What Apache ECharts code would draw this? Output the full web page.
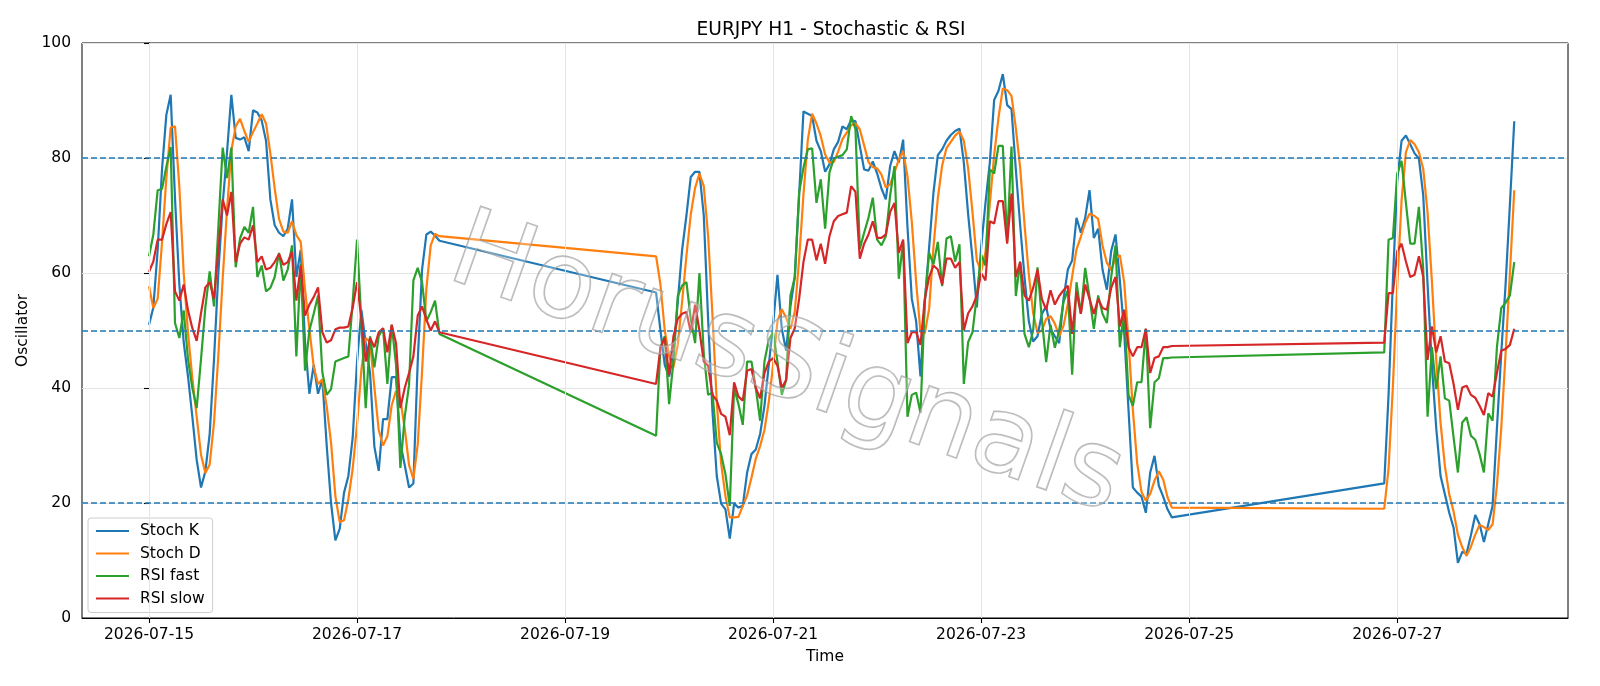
<!DOCTYPE html>
<html><head><meta charset="utf-8">
<script src="https://cdn.jsdelivr.net/npm/echarts@6/dist/echarts.min.js"></script>
<style>html,body{margin:0;padding:0;background:#fff}#c{width:1600px;height:686px}</style>
</head><body><div id="c"></div><script>
// Hourly bars: three trading segments (hours counted from 2026-07-15 00:00)
const segmentStartHours = [0, 117, 285];
const segmentLengths = [68, 120, 31];
const xTickHours = [0, 48, 96, 144, 192, 240, 288];
const levelLines = [80, 50, 20];

const stochK = [
  // 07-15 00:00 .. 07-17 19:00
  51, 54, 64, 78, 87.5, 91, 73, 58, 48, 42,
  35, 27.5, 22.7, 25.5, 32, 45, 60, 72, 81, 91,
  83.5, 83.2, 83.6, 81.2, 88.3, 87.9, 86.5, 83, 72.8, 68.3,
  67, 66.4, 67.7, 72.8, 59.3, 64, 48, 39, 44, 39,
  41.5, 30, 20, 13.5, 15.5, 21.8, 24.7, 31.4, 44.6, 53.6,
  47.8, 42.6, 29.8, 25.6, 34.6, 34.6, 41.9, 41.9, 30.4, 26.6,
  22.7, 23.4, 44.6, 60.6, 66.7, 67.2, 66.5, 65.6,
  // 07-19 21:00 .. 07-24 20:00
  56.6, 50, 44, 42, 46, 55, 64, 70, 76.7, 77.6,
  77.6, 70, 52, 36, 24.7, 19.9, 18.9, 13.8, 19.9, 19.2,
  19.5, 25.3, 28.5, 29.3, 32, 36.9, 44, 51, 59.7, 50.3,
  46.5, 54.2, 59.3, 73.5, 88.1, 87.7, 87.3, 83, 81.2, 77.6,
  78.9, 81.5, 82.8, 85.5, 85, 86.6, 86.4, 82.1, 78, 77.8,
  79.4, 77.3, 74.7, 72.8, 78.6, 81.2, 79.2, 83.2, 68, 55.5,
  51.6, 42, 55, 64.5, 74, 80.5, 81.5, 83, 84, 84.7,
  85.1, 79.2, 70.2, 62.5, 54, 64.5, 72.2, 79.2, 90.1, 91.7,
  94.6, 89.2, 88.5, 78, 68.3, 59.3, 51.6, 48.1, 49, 52.9,
  54.2, 50.3, 49, 47.8, 55.5, 60.6, 62.2, 69.6, 67, 69.6,
  74.4, 66.1, 67.7, 60.6, 57.1, 63.8, 66.7, 58.7, 49.7, 36.2,
  22.7, 21.8, 21.1, 18.3, 25.3, 28.2, 23, 21.1, 18.9, 17.5,
  // 07-26 21:00 .. 07-28 03:00
  23.4, 38.8, 58.7, 76, 83, 83.9, 82.4, 80.8, 79.9, 73.5,
  58, 43.9, 33, 24.7, 21.5, 18.3, 15.7, 9.6, 11.5, 11.2,
  14.4, 17.9, 16.3, 13.2, 16.3, 19.5, 33, 46, 58, 72, 86.4
];

const stochD = [
  57.7, 53.9, 55.5, 65.3, 76.5, 85.3, 85.5, 75, 60, 49.5,
  41.7, 35, 28.4, 25.2, 26.7, 34, 45.7, 59, 71, 81.3,
  85.5, 86.8, 84.7, 82.8, 84.5, 86, 87.6, 86, 80.8, 74.7,
  69.4, 67.2, 67, 69, 66.6, 65.4, 57.1, 50.3, 43.7, 40.7,
  41.5, 36.8, 30.5, 21.2, 16.7, 17, 20.7, 26, 33.6, 43.2,
  48.7, 48, 40.1, 32.7, 30, 31.6, 37, 39.5, 38, 33,
  26.6, 24.2, 30.2, 42.9, 57.3, 64.8, 66.8, 66.4,
  62.9, 58, 50, 45.5, 43.6, 47.5, 55, 63, 70.2, 74.8,
  77.3, 75.1, 66.5, 52.7, 37.6, 26.9, 21.2, 17.5, 17.5, 17.6,
  19.5, 21.3, 24.4, 27.7, 29.9, 32.7, 37.6, 44, 51.6, 53.7,
  52.2, 50.3, 53.3, 62.3, 73.6, 83.1, 87.7, 86, 83.8, 80.6,
  79.2, 79.3, 81.1, 83.3, 84.4, 85.7, 86, 85, 82.2, 79.3,
  78.4, 78.2, 77.1, 74.9, 75.4, 77.5, 79.7, 81.2, 76.8, 68.9,
  58.4, 49.7, 49.5, 53.8, 64.5, 73, 78.7, 81.7, 82.8, 83.9,
  84.6, 83, 78.2, 70.6, 62.2, 60.3, 63.6, 72, 80.5, 87,
  92.1, 91.8, 90.8, 85.2, 78.3, 68.5, 59.7, 53, 49.6, 50,
  52, 52.5, 51.2, 49, 50.8, 54.6, 59.4, 64.1, 66.3, 68.7,
  70.3, 70, 69.4, 64.8, 61.8, 60.5, 62.5, 63.1, 58.4, 48.2,
  36.2, 26.9, 21.9, 20.4, 21.6, 23.9, 25.5, 24.1, 21, 19.2,
  19, 26, 40.3, 57.8, 72.6, 81, 83.1, 82.4, 81, 78.1,
  70.5, 58.5, 45, 33.9, 26.4, 21.5, 18.5, 14.5, 12.3, 10.8,
  12.4, 14.5, 16.2, 15.8, 15.3, 16.3, 23, 33, 46, 60, 74.4
];

const rsiFast = [
  62.9, 66.7, 74.4, 74.6, 78.5, 81.9, 51.3, 48.7, 53.5, 45,
  40, 36.5, 45, 54, 60.3, 54.2, 68, 81.8, 76.5, 81.8,
  61, 66, 68, 67, 71.5, 59.3, 61.3, 56.8, 57.4, 59.3,
  63.5, 58.7, 60.6, 64.8, 45.5, 61.5, 43, 50, 52.9, 56.1,
  42.7, 38.8, 39.8, 44.6, 44.9, 45.2, 45.5, 55, 65.8, 51.5,
  36.5, 49, 43.6, 49, 50.4, 40.7, 51, 44, 26.1, 35,
  40.5, 58.7, 60.9, 58.4, 51.6, 53.2, 55.2, 49.4,
  31.7, 47.1, 49, 37.2, 44.6, 56, 57.8, 58.4, 52, 47.8,
  60, 46, 38.8, 39.2, 30.5, 28.5, 25, 19.5, 40, 37.2,
  33.6, 44.6, 44.6, 40, 34.3, 44.6, 48.4, 49.7, 44.6, 38.8,
  41.4, 56.1, 59.3, 74, 78.3, 81.5, 81.7, 72.2, 76.3, 67.7,
  77.5, 79.9, 80.2, 80.5, 81.5, 87.3, 85, 64.2, 67, 69.6,
  73.1, 65.8, 64.8, 66.4, 73.5, 78.6, 59, 65.4, 35, 38.8,
  39.2, 35.7, 55, 63.5, 61.5, 65.4, 57.7, 66, 66.4, 62,
  65, 40.7, 48, 49.7, 56.1, 63.2, 61.3, 78, 77.3, 82.1,
  82.1, 65.5, 82, 56, 62, 49.4, 47.1, 50, 61, 52,
  44.5, 51, 47, 50, 55, 57, 42.3, 58.4, 52.9, 60.9,
  55.8, 50.3, 56.1, 52.9, 51.3, 59.3, 64.8, 47.1, 53.6, 38.8,
  36.9, 41, 41, 50.3, 33, 41, 41.7, 45.2, 45.2, 45.3,
  46.2, 65.8, 66.1, 77.3, 79.5, 72.2, 65.1, 65.1, 71.5, 60.6,
  35, 47.1, 39.8, 45.5, 38.2, 37.8, 31.4, 25.3, 34, 34.9,
  31.7, 31, 28.5, 25.3, 35.6, 34.3, 47.1, 53.9, 54.8, 56.1, 61.9
];

const rsiSlow = [
  60.2, 62, 65.8, 65.8, 68.5, 70.6, 56.8, 55.2, 58, 53.5,
  50.4, 48.2, 53, 57.5, 58.4, 55.5, 64, 72.8, 70, 74.1,
  61.9, 65.1, 66.2, 65.8, 68.3, 61.9, 62.9, 60.6, 60.9, 61.9,
  63.3, 61.4, 61.9, 63.7, 55.2, 61.3, 52.6, 54.5, 55.8, 57.5,
  49.7, 47.9, 48.3, 50.2, 50.5, 50.5, 50.7, 54, 58.4, 52,
  44.6, 48.7, 47.1, 49.7, 50.4, 46.2, 51, 47.8, 36.5, 40,
  42.6, 45.5, 52.6, 54.2, 51.9, 50, 51.6, 49.7,
  40.7, 47, 48.7, 42.3, 49, 52, 52.9, 53.2, 49.7, 54.5,
  50, 44.6, 43.9, 38.8, 37.8, 35.5, 35, 31.8, 41, 38.5,
  37.8, 43, 43.3, 40, 38.2, 42.6, 44.6, 45.2, 43.9, 40,
  41.4, 48.7, 50.4, 55.5, 61.9, 65.8, 65.8, 62.2, 65.1, 61.6,
  66.4, 69, 69.9, 70.2, 70.5, 75.1, 74.1, 62.5, 65.1, 66.7,
  69, 66.1, 66.1, 66.7, 70.6, 72.2, 63.5, 65.8, 47.8, 49.7,
  49.7, 47.5, 55.5, 59.3, 61.3, 60.6, 58, 62.5, 62.5, 60.9,
  61.9, 50, 53, 54.2, 56.1, 60, 58.7, 69, 68.6, 72.5,
  72.5, 65.1, 73.8, 59.3, 61.9, 56.1, 55.2, 57.4, 60.6, 55.5,
  53.6, 57, 54.5, 56, 57, 57.8, 49.4, 56.8, 52.9, 58,
  55.5, 52.9, 55.5, 53.9, 53.6, 57.4, 59.3, 50.7, 53.6, 47.1,
  45.5, 47.1, 47.1, 50.3, 42.6, 45.2, 45.5, 47.1, 47.1, 47.3,
  47.9, 56.5, 56.5, 63.8, 65.1, 62, 59.3, 59.7, 62.9, 59.3,
  44.9, 50.7, 46.2, 49, 44.6, 44.3, 40.7, 36.2, 40.1, 40.4,
  38.8, 38.3, 36.9, 35.3, 39.1, 38.5, 42.6, 46.5, 46.8, 47.5, 50.3
];

// hour offsets of every bar
const hours = [];
segmentStartHours.forEach((s, i) => { for (let k = 0; k < segmentLengths[i]; k++) hours.push(s + k); });
const pairs = arr => arr.map((v, i) => [hours[i], v]);

const baseMs = Date.UTC(2026, 6, 15);
const fmtDate = v => new Date(baseMs + v * 3600000).toISOString().slice(0, 10);

const FONT = 'DejaVu Sans';
const FS = 15.5;
const chart = echarts.init(document.getElementById('c'), null, { renderer: 'canvas' });

const mkSeries = (name, data, color) => ({
  name, type: 'line', data: pairs(data), symbol: 'none', showSymbol: false,
  lineStyle: { width: 2.2, color }, itemStyle: { color }, z: 3,
  emphasis: { disabled: true }, animation: false
});

chart.setOption({
  animation: false,
  backgroundColor: '#ffffff',
  title: {
    text: 'EURJPY H1 - Stochastic & RSI', left: 826, top: 16, textAlign: 'center',
    textStyle: { fontFamily: FONT, fontSize: 18.6, fontWeight: 'normal', color: '#000' }
  },
  grid: { left: 82, right: 32, top: 43, bottom: 68, show: true, borderColor: '#000', borderWidth: 1, backgroundColor: 'transparent' },
  legend: {
    data: ['Stoch K', 'Stoch D', 'RSI fast', 'RSI slow'],
    orient: 'vertical', left: 88, top: 518, itemWidth: 33, itemHeight: 14, itemGap: 6.5,
    padding: [5, 8, 6, 7], backgroundColor: 'rgba(255,255,255,0.8)', borderColor: '#cccccc',
    borderWidth: 1, borderRadius: 3,
    itemStyle: { opacity: 0 },
    textStyle: { fontFamily: FONT, fontSize: FS, color: '#000', padding: [0, 0, 0, 6] }
  },
  xAxis: {
    type: 'value', min: -15.46, max: 327.4,
    name: 'Time', nameLocation: 'middle', nameGap: 31,
    nameTextStyle: { fontFamily: FONT, fontSize: FS, color: '#000' },
    axisLine: { lineStyle: { color: '#000', width: 1 } },
    axisTick: { show: true, inside: false, length: 5, lineStyle: { color: '#000', width: 1.1 }, customValues: xTickHours },
    axisLabel: { fontFamily: FONT, fontSize: FS, color: '#000', margin: 9, customValues: xTickHours, formatter: v => fmtDate(v) },
    splitLine: { show: false }
  },
  yAxis: {
    type: 'value', min: 0, max: 100, interval: 20,
    name: 'Oscillator', nameLocation: 'middle', nameGap: 49,
    nameTextStyle: { fontFamily: FONT, fontSize: FS, color: '#000' },
    axisLine: { show: true, lineStyle: { color: '#000', width: 1 } },
    axisTick: { show: true, inside: false, length: 5, lineStyle: { color: '#000', width: 1.1 } },
    axisLabel: { fontFamily: FONT, fontSize: FS, color: '#000', margin: 11 },
    splitLine: { show: true, lineStyle: { color: '#e4e4e4', width: 1 } }
  },
  series: [
    {
      type: 'line', data: [], silent: true, z: 1, animation: false,
      markLine: {
        silent: true, symbol: ['none', 'none'], label: { show: false }, animation: false,
        lineStyle: { color: '#e4e4e4', width: 1, type: 'solid' },
        data: xTickHours.map(h => ({ xAxis: h }))
      }
    },
    mkSeries('Stoch K', stochK, '#1f77b4'),
    mkSeries('Stoch D', stochD, '#ff7f0e'),
    mkSeries('RSI fast', rsiFast, '#2ca02c'),
    mkSeries('RSI slow', rsiSlow, '#d62728'),
    {
      type: 'line', data: [], silent: true, z: 4, animation: false,
      markLine: {
        silent: true, symbol: ['none', 'none'], label: { show: false }, animation: false,
        lineStyle: { color: '#1f77b4', width: 1.5, type: [6, 3] },
        data: levelLines.map(v => ({ yAxis: v }))
      }
    }
  ],
  graphic: [{
    type: 'text', x: 786, y: 368, rotation: -0.34, z: 100, silent: true,
    style: {
      text: 'HorusSignals', fontFamily: FONT, fontSize: 108,
      align: 'center', verticalAlign: 'middle',
      fill: 'rgba(255,255,255,0.25)', stroke: 'rgba(150,150,150,0.7)', lineWidth: 1.7,
      shadowColor: 'rgba(0,0,0,0.22)', shadowBlur: 2, shadowOffsetX: 3, shadowOffsetY: 3
    }
  }]
});
</script></body></html>
